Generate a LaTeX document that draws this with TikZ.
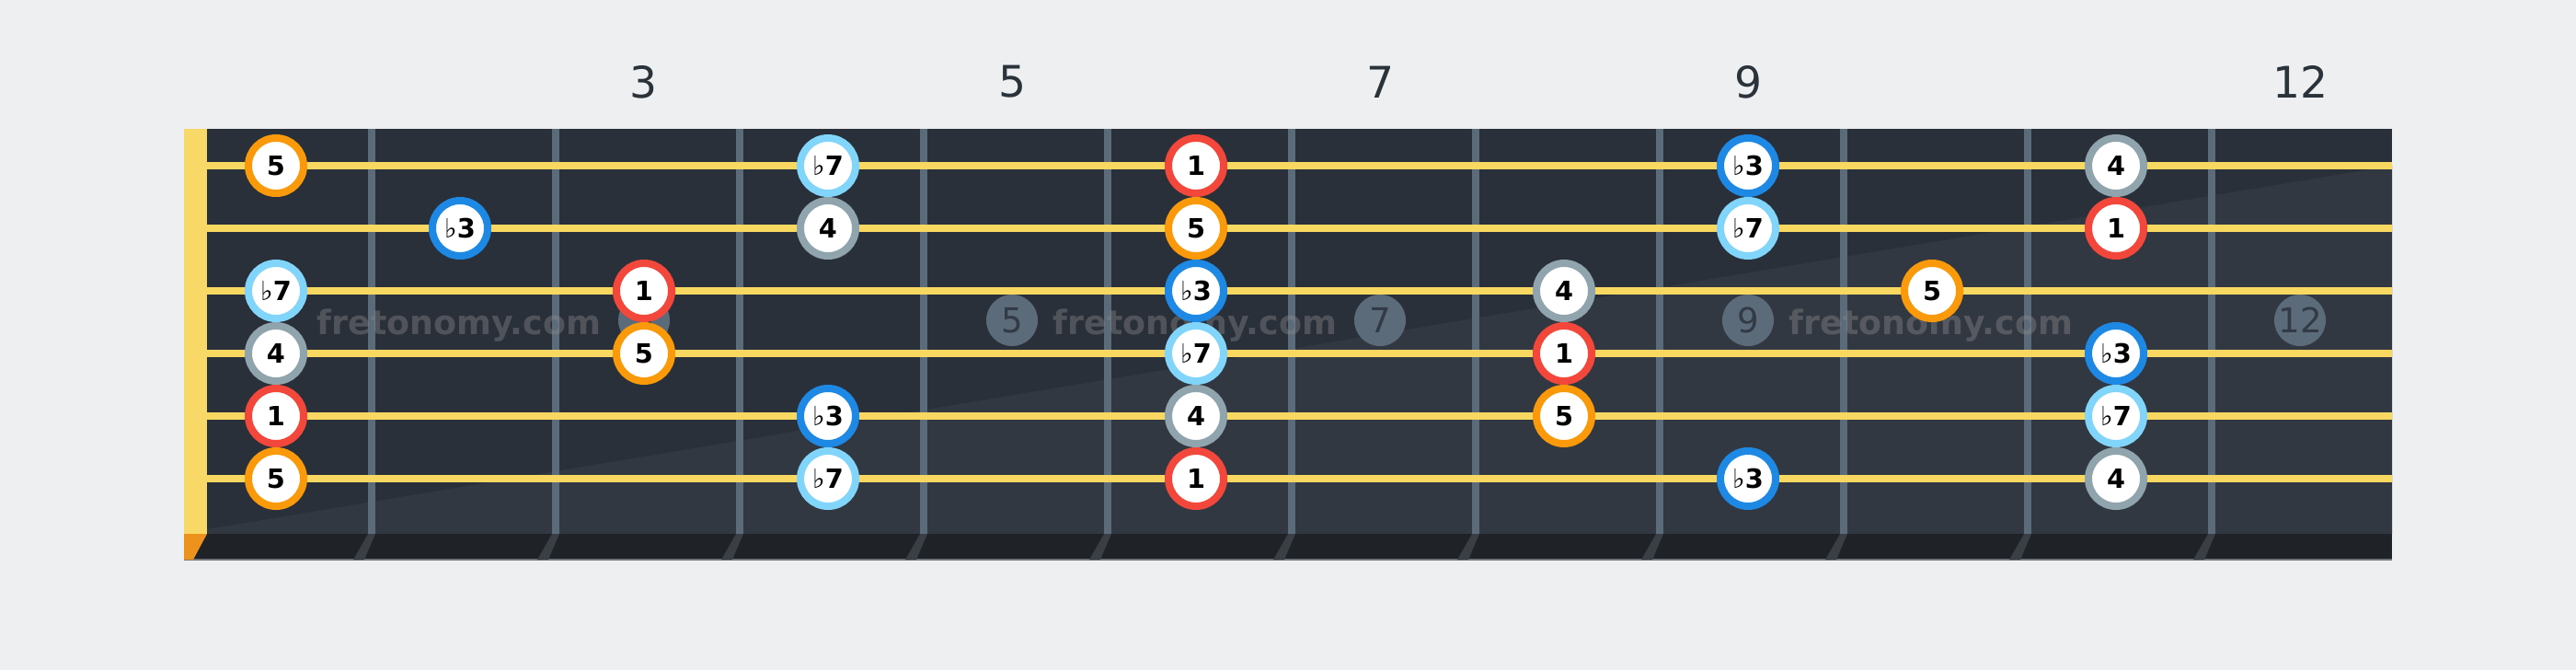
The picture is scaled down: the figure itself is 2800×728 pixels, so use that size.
\documentclass[tikz,border=0pt]{standalone}
\usepackage{fontspec}
\setmainfont{DejaVu Sans}

\definecolor{pagebg}{HTML}{EEEFF1}
\definecolor{boarddark}{HTML}{29303A}
\definecolor{boardlight}{HTML}{323841}
\definecolor{boardedge}{HTML}{1F2327}
\definecolor{edgeline}{HTML}{6E757D}
\definecolor{nutyellow}{HTML}{F8D866}
\definecolor{nutorange}{HTML}{EE921E}
\definecolor{fretgrey}{HTML}{5B6B79}
\definecolor{fretshade}{HTML}{3A3F45}
\definecolor{stringyellow}{HTML}{F9D862}
\definecolor{inlaygrey}{HTML}{5B6B79}
\definecolor{inlaytext}{HTML}{323B45}
\definecolor{numdark}{HTML}{2A323A}
\definecolor{markgrey}{HTML}{8C8C8C}
\definecolor{rootred}{HTML}{F2473A}
\definecolor{fifthorange}{HTML}{FA9A0A}
\definecolor{thirdblue}{HTML}{1E88E5}
\definecolor{seventhblue}{HTML}{81D4FA}
\definecolor{fourthgrey}{HTML}{90A4AE}

\newcommand{\fl}{{\mdseries ♭}}

\tikzset{every picture/.style={line width=0.75pt}}
\tikzset{
  note/.style={circle, draw, fill=white, line width=2pt, minimum size=15pt, inner sep=0pt, text=black, font=\fontsize{7.2}{8}\selectfont\bfseries},
  root/.style={note, draw=rootred},
  fifth/.style={note, draw=fifthorange},
  flatthird/.style={note, draw=thirdblue},
  flatseventh/.style={note, draw=seventhblue},
  fourth/.style={note, draw=fourthgrey},
  fretwire/.style={draw=fretgrey, line width=2pt},
  stringline/.style={draw=stringyellow, line width=2pt},
  inlay/.style={circle, fill=inlaygrey, minimum size=14pt, inner sep=0pt, text=inlaytext, font=\fontsize{9.3}{10}\selectfont},
  fretnum/.style={inner sep=0pt, text=numdark, font=\fontsize{11.8}{13}\selectfont},
  watermark/.style={anchor=base, inner sep=0pt, text=markgrey, text opacity=0.4, font=\fontsize{9.1}{10}\selectfont\bfseries}
}

\begin{document}
\begin{tikzpicture}[x=0.25pt,y=0.25pt,yscale=-1,xscale=1]
%Background
\fill [pagebg] (0,0) rectangle (2800,728) ;

%Board
\fill [boarddark] (225,140) rectangle (2600,580) ;
\fill [boardlight] (225,575) -- (2600,180) -- (2600,580) -- (225,580) -- cycle ;
\fill [boardedge] (200,580) rectangle (2600,608) ;
\draw [edgeline, line width=0.4pt] (200,608) -- (2600,608) ;
%Nut
\fill [nutyellow] (200,140) rectangle (225,580) ;
\fill [nutorange] (200,580) -- (225,580) -- (210,608) -- (200,608) -- cycle ;

%Fret shadows
\fill [fretshade] (400,580) -- (408,580) -- (396,608) -- (384,608) -- cycle ;
\fill [fretshade] (600,580) -- (608,580) -- (596,608) -- (584,608) -- cycle ;
\fill [fretshade] (800,580) -- (808,580) -- (796,608) -- (784,608) -- cycle ;
\fill [fretshade] (1000,580) -- (1008,580) -- (996,608) -- (984,608) -- cycle ;
\fill [fretshade] (1200,580) -- (1208,580) -- (1196,608) -- (1184,608) -- cycle ;
\fill [fretshade] (1400,580) -- (1408,580) -- (1396,608) -- (1384,608) -- cycle ;
\fill [fretshade] (1600,580) -- (1608,580) -- (1596,608) -- (1584,608) -- cycle ;
\fill [fretshade] (1800,580) -- (1808,580) -- (1796,608) -- (1784,608) -- cycle ;
\fill [fretshade] (2000,580) -- (2008,580) -- (1996,608) -- (1984,608) -- cycle ;
\fill [fretshade] (2200,580) -- (2208,580) -- (2196,608) -- (2184,608) -- cycle ;
\fill [fretshade] (2400,580) -- (2408,580) -- (2396,608) -- (2384,608) -- cycle ;

%Straight Lines (frets)
\draw [fretwire] (404,140) -- (404,580) ;
\draw [fretwire] (604,140) -- (604,580) ;
\draw [fretwire] (804,140) -- (804,580) ;
\draw [fretwire] (1004,140) -- (1004,580) ;
\draw [fretwire] (1204,140) -- (1204,580) ;
\draw [fretwire] (1404,140) -- (1404,580) ;
\draw [fretwire] (1604,140) -- (1604,580) ;
\draw [fretwire] (1804,140) -- (1804,580) ;
\draw [fretwire] (2004,140) -- (2004,580) ;
\draw [fretwire] (2204,140) -- (2204,580) ;
\draw [fretwire] (2404,140) -- (2404,580) ;

% Inlay Nodes
\draw (700,348) node [inlay] (dot3) {3};
\draw (1100,348) node [inlay] (dot5) {5};
\draw (1500,348) node [inlay] (dot7) {7};
\draw (1900,348) node [inlay] (dot9) {9};
\draw (2500,348) node [inlay] (dot12) {12};

%Straight Lines (strings)
\draw [stringline] (225,180) -- (2600,180) ;
\draw [stringline] (225,248) -- (2600,248) ;
\draw [stringline] (225,316) -- (2600,316) ;
\draw [stringline] (225,384) -- (2600,384) ;
\draw [stringline] (225,452) -- (2600,452) ;
\draw [stringline] (225,520) -- (2600,520) ;

% Text Node
\draw (499,363) node [watermark] (mark1) {fretonomy.com};
% Text Node
\draw (1299,363) node [watermark] (mark2) {fretonomy.com};
% Text Node
\draw (2099,363) node [watermark] (mark3) {fretonomy.com};

% Text Node
\draw (700,89) node [fretnum] (num3) {3};
% Text Node
\draw (1100,89) node [fretnum] (num5) {5};
% Text Node
\draw (1500,89) node [fretnum] (num7) {7};
% Text Node
\draw (1900,89) node [fretnum] (num9) {9};
% Text Node
\draw (2500,89) node [fretnum] (num12) {12};

%Notes, string 1
\draw (300,180) node [fifth] (s1f1) {5};
\draw (900,180) node [flatseventh] (s1f4) {\fl7};
\draw (1300,180) node [root] (s1f6) {1};
\draw (1900,180) node [flatthird] (s1f9) {\fl3};
\draw (2300,180) node [fourth] (s1f11) {4};
%Notes, string 2
\draw (500,248) node [flatthird] (s2f2) {\fl3};
\draw (900,248) node [fourth] (s2f4) {4};
\draw (1300,248) node [fifth] (s2f6) {5};
\draw (1900,248) node [flatseventh] (s2f9) {\fl7};
\draw (2300,248) node [root] (s2f11) {1};
%Notes, string 3
\draw (300,316) node [flatseventh] (s3f1) {\fl7};
\draw (700,316) node [root] (s3f3) {1};
\draw (1300,316) node [flatthird] (s3f6) {\fl3};
\draw (1700,316) node [fourth] (s3f8) {4};
\draw (2100,316) node [fifth] (s3f10) {5};
%Notes, string 4
\draw (300,384) node [fourth] (s4f1) {4};
\draw (700,384) node [fifth] (s4f3) {5};
\draw (1300,384) node [flatseventh] (s4f6) {\fl7};
\draw (1700,384) node [root] (s4f8) {1};
\draw (2300,384) node [flatthird] (s4f11) {\fl3};
%Notes, string 5
\draw (300,452) node [root] (s5f1) {1};
\draw (900,452) node [flatthird] (s5f4) {\fl3};
\draw (1300,452) node [fourth] (s5f6) {4};
\draw (1700,452) node [fifth] (s5f8) {5};
\draw (2300,452) node [flatseventh] (s5f11) {\fl7};
%Notes, string 6
\draw (300,520) node [fifth] (s6f1) {5};
\draw (900,520) node [flatseventh] (s6f4) {\fl7};
\draw (1300,520) node [root] (s6f6) {1};
\draw (1900,520) node [flatthird] (s6f9) {\fl3};
\draw (2300,520) node [fourth] (s6f11) {4};

\end{tikzpicture}
\end{document}
